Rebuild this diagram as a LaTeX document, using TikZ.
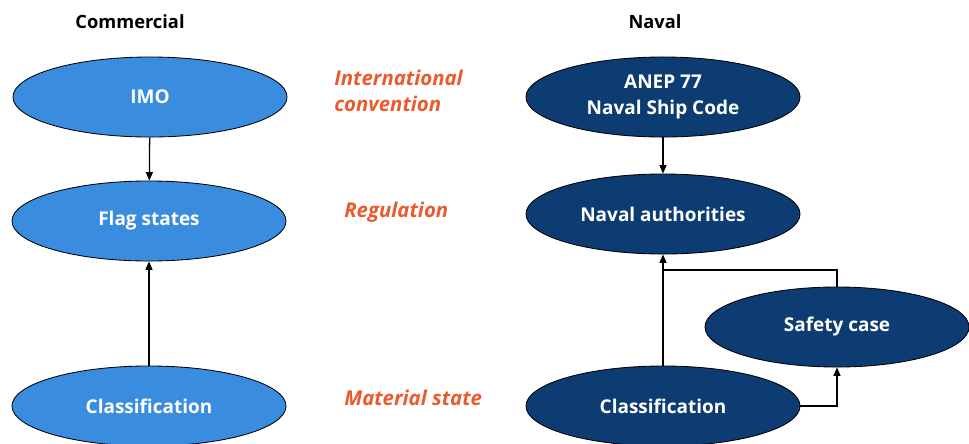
\documentclass[tikz,border=0pt]{standalone}
\usepackage{fontspec}
\setmainfont{Open Sans}
\usepackage{xcolor}
\usepackage{tikz}
\usetikzlibrary{shapes.geometric,arrows.meta}

\definecolor{commblue}{HTML}{3A8DDE}
\definecolor{navalblue}{HTML}{0C3C72}
\definecolor{levelred}{HTML}{EA5A2E}

\begin{document}
\begin{tikzpicture}[->, >={Triangle[length=6pt,width=5pt]}, x=0.025cm, y=-0.025cm, line width=0.9pt]

    \tikzstyle{body}=[ellipse, draw=black, line width=0.6pt, text=white, font=\bfseries\fontsize{13.5}{18}\selectfont, align=center, minimum width=6.85cm, minimum height=2cm, inner sep=0pt]
    \tikzstyle{commercial}=[body, fill=commblue]
    \tikzstyle{naval}=[body, fill=navalblue]
    \tikzstyle{level}=[text=levelred, font=\bfseries\itshape\fontsize{14.5}{18.5}\selectfont, align=left, anchor=west]
    \tikzstyle{heading}=[font=\bfseries\fontsize{13}{15}\selectfont]

    \useasboundingbox (0,0) rectangle (969,443);

    % column headings
    \node[heading] (COMMERCIAL) at (130,22) {Commercial};
    \node[heading] (NAVAL) at (655,22) {Naval};

    % commercial side
    \node[commercial] (IMO) at (150,97) {IMO};
    \node[commercial] (FLAG) at (149,221) {Flag states};
    \node[commercial] (CLASSC) at (149,406) {Classification};

    % levels
    \node[level] (CONVENTION) at (329,91) {International\\convention};
    \node[level] (REGULATION) at (339,212) {Regulation};
    \node[level] (MATERIAL) at (339,398) {Material state};

    % naval side
    \node[naval] (ANEP) at (663,97) {ANEP 77\\Naval Ship Code};
    \node[naval] (AUTH) at (663,214) {Naval authorities};
    \node[naval, minimum width=6.6cm] (SAFETY) at (837,327) {Safety case};
    \node[naval] (CLASSN) at (663,406) {Classification};

    \coordinate (JOIN) at (663,270);

    \draw (IMO) -- (FLAG);
    \draw (CLASSC) -- (FLAG);
    \draw (ANEP) -- (AUTH);
    \draw (CLASSN) -- (AUTH);
    \draw[-] (SAFETY.north) |- (JOIN);
    \draw (CLASSN.east) -| (SAFETY.south);

\end{tikzpicture}
\end{document}
